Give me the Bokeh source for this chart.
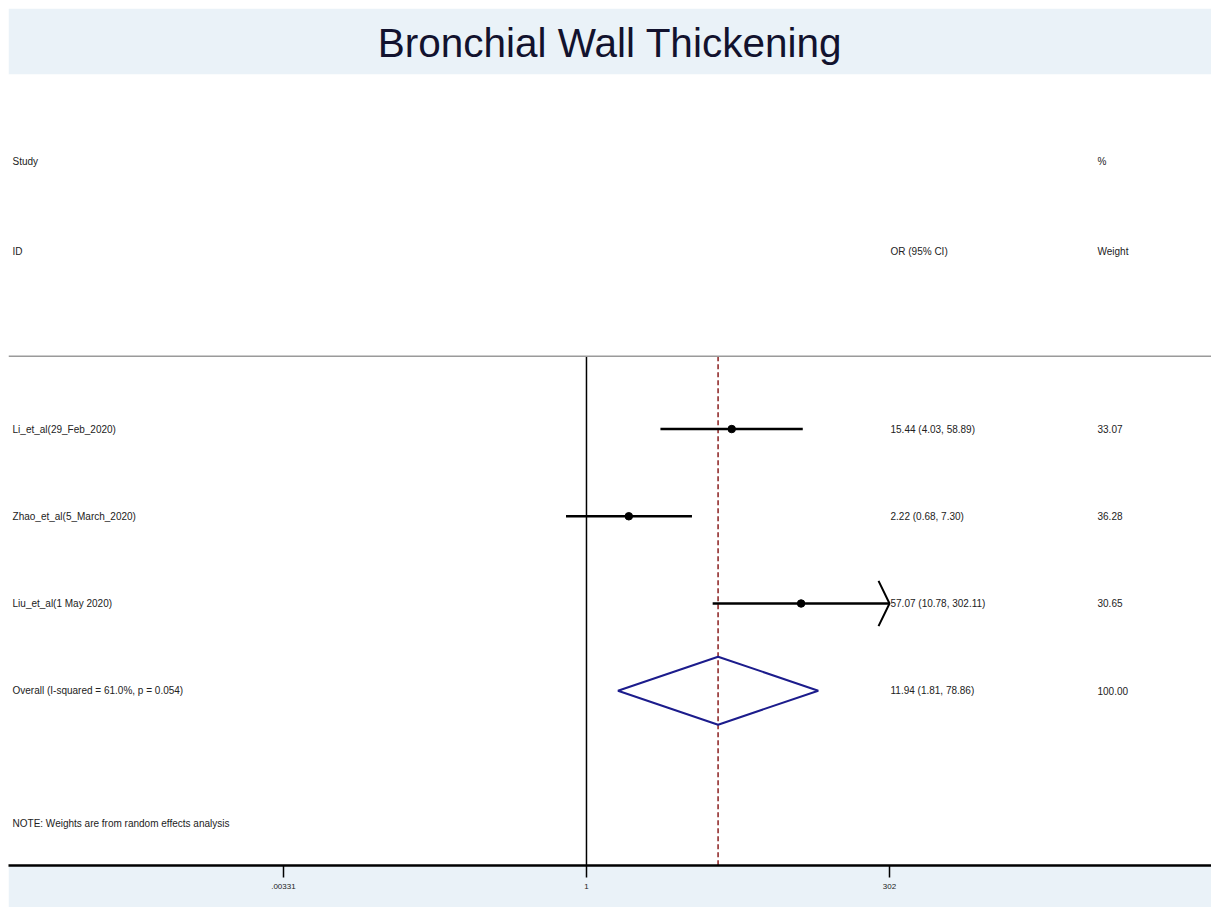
import numpy as np
from bokeh.plotting import figure
from bokeh.models import Range1d, FixedTicker, Span
from bokeh.core.properties import value
from bokeh.embed import file_html
from bokeh.resources import INLINE

# ---------------- data ----------------
title_text = "Bronchial Wall Thickening"
studies = ["Li_et_al(29_Feb_2020)", "Zhao_et_al(5_March_2020)", "Liu_et_al(1 May 2020)"]
or_est = [15.44, 2.22, 57.07]
ci_lo = [4.03, 0.68, 10.78]
ci_hi = [58.89, 7.30, 302.11]
weights = [33.07, 36.28, 30.65]
overall_label = "Overall  (I-squared = 61.0%, p = 0.054)"
overall_est = 11.94
overall_lo = 1.81
overall_hi = 78.86
overall_weight = 100.00
note_text = "NOTE: Weights are from random effects analysis"
tick_values = [0.00331, 1, 302]
tick_labels = [".00331", "1", "302"]

# ---------------- layout ----------------
FONT = value("Liberation Sans")
TXT = "10px"
TXT_COLOR = "#222222"
x_label = -4.697
x_value = 2.488
x_weight = 4.182
row_header1 = -3.07
row_header2 = -2.04
sep_row = -0.836
note_row = 4.52
y_bottom = 5.004
y_top = -4.065

lg = np.log10
clip_hi = lg(max(tick_values))

p = figure(width=1203, height=899, margin=(8, 0, 0, 8),
           x_range=Range1d(-4.730, 5.115), y_range=Range1d(y_bottom, y_top),
           output_backend="svg", toolbar_location=None, y_axis_location=None,
           min_border_left=0, min_border_right=0, min_border_top=65, min_border_bottom=42,
           background_fill_color="white", border_fill_color="#EAF2F8",
           outline_line_color=None)

p.title.text = title_text
p.title.align = "center"
p.title.text_font = "Liberation Sans"
p.title.text_font_size = "40.5px"
p.title.text_font_style = "normal"
p.title.text_color = "#12122e"
p.title.standoff = 18

p.xgrid.visible = False
p.ygrid.visible = False

ax = p.xaxis[0]
tick_pos = [float(lg(t)) for t in tick_values]
ax.ticker = FixedTicker(ticks=tick_pos, minor_ticks=[])
ax.major_label_overrides = {tp: lb for tp, lb in zip(tick_pos, tick_labels)}
ax.axis_line_width = 2.5
ax.axis_line_color = "black"
ax.major_tick_in = 0
ax.major_tick_out = 12
ax.major_tick_line_width = 1.5
ax.major_tick_line_color = "black"
ax.minor_tick_line_color = None
ax.major_label_text_font = "Liberation Sans"
ax.major_label_text_font_size = "8px"
ax.major_label_text_color = TXT_COLOR
ax.major_label_standoff = 6

# separator line below header
p.add_layout(Span(location=sep_row, dimension="width", line_color="#9a9a9a", line_width=1.5))

# null line and overall line
p.segment(x0=[0], y0=[sep_row], x1=[0], y1=[y_bottom], line_color="black", line_width=1.5)
p.segment(x0=[lg(overall_est)], y0=[sep_row], x1=[lg(overall_est)], y1=[y_bottom],
          line_color="#8b1f1f", line_width=1.5, line_dash="5 3")

# study CIs
rows = list(range(len(studies)))
lo_x = [lg(v) for v in ci_lo]
hi_x = [min(lg(v), clip_hi) for v in ci_hi]
p.segment(x0=lo_x, y0=rows, x1=hi_x, y1=rows, line_color="black", line_width=2.5)
p.scatter(x=[lg(v) for v in or_est], y=rows, size=7.5, color="black")

# arrows for clipped CIs
for r, v in zip(rows, ci_hi):
    if lg(v) > clip_hi:
        p.line(x=[clip_hi - 0.09, clip_hi, clip_hi - 0.09], y=[r - 0.26, r, r + 0.26],
               line_color="black", line_width=2)

# overall diamond
orow = len(studies)
p.patch(x=[lg(overall_lo), lg(overall_est), lg(overall_hi), lg(overall_est)],
        y=[orow, orow - 0.39, orow, orow + 0.39],
        fill_color=None, line_color="#1c1c8c", line_width=2)

# texts
left_txt = ["Study", "ID"] + studies + [overall_label, note_text]
left_y = [row_header1, row_header2] + rows + [orow, note_row]
p.text(x=[x_label] * len(left_txt), y=left_y, text=left_txt, text_font=FONT,
       text_font_size=TXT, text_baseline="middle", text_color=TXT_COLOR)

val_txt = ["OR (95% CI)"] + [f"{e:.2f} ({l:.2f}, {h:.2f})" for e, l, h in zip(or_est, ci_lo, ci_hi)] \
          + [f"{overall_est:.2f} ({overall_lo:.2f}, {overall_hi:.2f})"]
val_y = [row_header2] + rows + [orow]
p.text(x=[x_value] * len(val_txt), y=val_y, text=val_txt, text_font=FONT,
       text_font_size=TXT, text_baseline="middle", text_color=TXT_COLOR)

w_txt = ["%", "Weight"] + [f"{w:.2f}" for w in weights] + [f"{overall_weight:.2f}"]
w_y = [row_header1, row_header2] + rows + [orow]
p.text(x=[x_weight] * len(w_txt), y=w_y, text=w_txt, text_font=FONT,
       text_font_size=TXT, text_baseline="middle", text_color=TXT_COLOR)

open("out.html", "w").write(file_html(p, INLINE))
